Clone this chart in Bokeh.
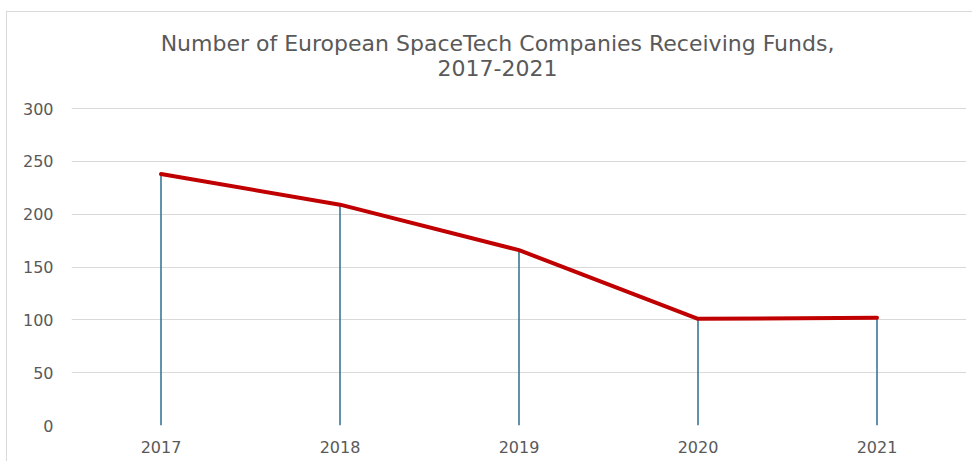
from bokeh.plotting import figure
from bokeh.models import FactorRange, Range1d, Label, FixedTicker
from bokeh.embed import file_html
from bokeh.resources import INLINE

years = ["2017", "2018", "2019", "2020", "2021"]
companies = [238, 209, 166, 101, 102]
y_ticks = [0, 50, 100, 150, 200, 250, 300]

title_line1 = "Number of European SpaceTech Companies Receiving Funds,"
title_line2 = "2017-2021"

TEXT = "#595959"
FONT = "DejaVu Sans"

# frame extends up to the top edge so the title can sit inside it
Y_TOP = 390.9

p = figure(
    width=966, height=450,
    x_range=FactorRange(*years, range_padding=0),
    y_range=Range1d(0, Y_TOP),
    output_backend="svg", toolbar_location=None,
    min_border_left=64, min_border_right=7, min_border_bottom=37, min_border_top=0,
)
p.margin = (11, 0, 0, 6)
p.styles = {"border-left": "1px solid #d9d9d9", "border-top": "1px solid #d9d9d9"}
p.outline_line_color = None
p.background_fill_color = "white"
p.border_fill_color = "white"

# two-line title, centred at the same point as in the original
for txt, ty in ((title_line1, 361.3), (title_line2, 338.4)):
    p.add_layout(Label(x=2.38, y=ty, text=txt, text_align="center", text_baseline="middle",
                       text_font=FONT, text_font_size="22px", text_color=TEXT))

# grid
p.xgrid.grid_line_color = None
p.ygrid.grid_line_color = "#d9d9d9"
p.ygrid.grid_line_width = 1

# axes
p.yaxis.ticker = FixedTicker(ticks=y_ticks)
for ax in (p.xaxis[0], p.yaxis[0]):
    ax.axis_line_color = None
    ax.major_tick_line_color = None
    ax.minor_tick_line_color = None
    ax.major_label_text_font = FONT
    ax.major_label_text_font_size = "16px"
    ax.major_label_text_color = TEXT
p.yaxis.major_label_standoff = 12
p.xaxis.major_label_standoff = 9

# drop lines
p.segment(x0=years, y0=[0] * len(years), x1=years, y1=companies,
          line_color="#2B6F8C", line_width=1.5)
# main line
p.line(x=years, y=companies, line_color="#C00000", line_width=4, line_cap="round", line_join="round")

open("out.html", "w").write(file_html(p, INLINE))
